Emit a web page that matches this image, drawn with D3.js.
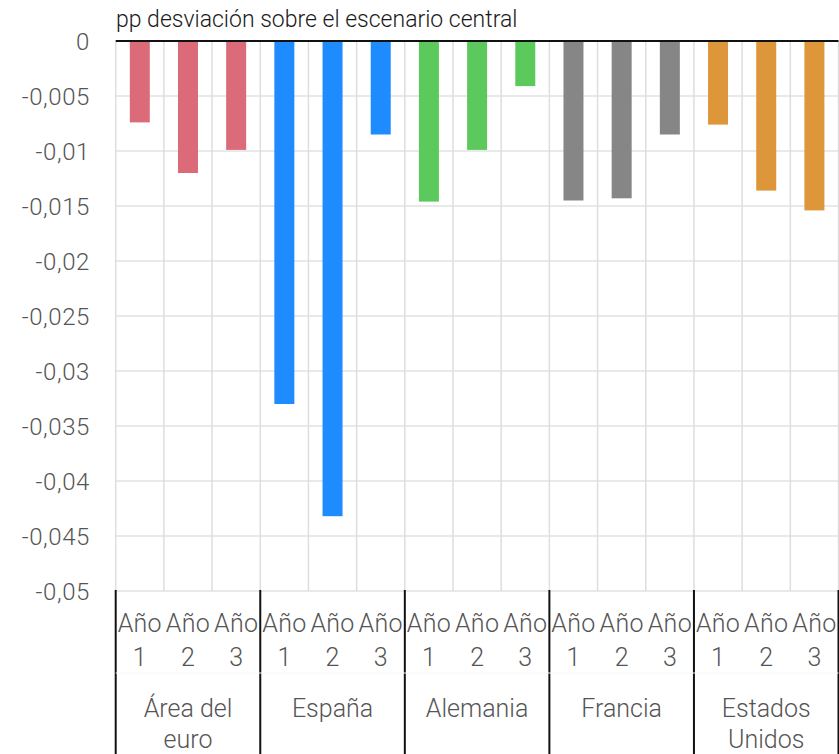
<!DOCTYPE html>
<html>
<head>
<meta charset="utf-8">
<script src="https://cdn.jsdelivr.net/npm/d3@7"></script>
<style>
  html, body { margin: 0; padding: 0; background: #fff; }
  svg { display: block; }
  text { font-family: Roboto, "Liberation Sans", sans-serif; font-weight: 300; }
</style>
</head>
<body>
<svg id="chart" width="839" height="754"></svg>
<script>
const title = "pp desviación sobre el escenario central";
const groups = [["Área del", "euro"], ["España"], ["Alemania"], ["Francia"], ["Estados", "Unidos"]];
const years = [["Año", "1"], ["Año", "2"], ["Año", "3"]];
const areaEuro = [-0.0074, -0.0120, -0.0099];
const espana = [-0.0330, -0.0432, -0.0085];
const alemania = [-0.0146, -0.0099, -0.0041];
const francia = [-0.0145, -0.0143, -0.0085];
const eeuu = [-0.0076, -0.0136, -0.0154];
const seriesValues = [areaEuro, espana, alemania, francia, eeuu];
const colors = ["#DB6B78", "#1E8CFF", "#5BC95B", "#868686", "#DD973A"];
const yTicks = [0, -0.005, -0.01, -0.015, -0.02, -0.025, -0.03, -0.035, -0.04, -0.045, -0.05];

const svg = d3.select("#chart");
const pLeft = 115.7, pRight = 838.5, pTop = 41, pBottom = 591;

const y = d3.scaleLinear().domain([0, -0.05]).range([pTop, pBottom]);
const gx = d3.scaleBand().domain(d3.range(groups.length)).range([pLeft, pRight]).padding(0);
const ix = d3.scaleBand().domain(d3.range(years.length)).range([0, gx.bandwidth()])
  .paddingInner(0.585).paddingOuter(0.585 / 2);
const colStep = gx.bandwidth() / years.length;

// horizontal gridlines
svg.append("g").selectAll("line").data(yTicks.filter(d => d !== 0)).join("line")
  .attr("x1", pLeft).attr("x2", pRight)
  .attr("y1", d => y(d)).attr("y2", d => y(d))
  .attr("stroke", "#e2e2e2").attr("stroke-width", 1.5);

// vertical gridlines (column boundaries)
const colEdges = [];
groups.forEach((g, gi) => years.forEach((yr, yi) => colEdges.push(gx(gi) + yi * colStep)));
colEdges.push(pRight);
svg.append("g").selectAll("line").data(colEdges).join("line")
  .attr("x1", d => d).attr("x2", d => d)
  .attr("y1", pTop).attr("y2", pBottom)
  .attr("stroke", "#dedede").attr("stroke-width", 1.5);

// bars
const gg = svg.append("g").selectAll("g").data(seriesValues).join("g")
  .attr("transform", (d, i) => `translate(${gx(i)},0)`);
gg.selectAll("rect").data((d, i) => d.map(v => ({ v, c: colors[i] }))).join("rect")
  .attr("x", (d, i) => ix(i))
  .attr("width", ix.bandwidth())
  .attr("y", y(0))
  .attr("height", d => y(d.v) - y(0))
  .attr("fill", d => d.c);

// zero line
svg.append("line").attr("x1", pLeft).attr("x2", pRight)
  .attr("y1", y(0)).attr("y2", y(0))
  .attr("stroke", "#111").attr("stroke-width", 2);

// y axis labels
const fmt = d => d === 0 ? "0" : d3.format("")(d).replace(".", ",").replace("−", "-");
svg.append("g").selectAll("text").data(yTicks).join("text")
  .attr("x", 90).attr("y", d => y(d))
  .attr("dy", "0.36em")
  .attr("text-anchor", "end")
  .attr("fill", "#555")
  .style("font-size", "24px")
  .style("letter-spacing", "0.6px")
  .text(d => fmt(d));

// title
svg.append("text").attr("x", 116).attr("y", 27)
  .attr("fill", "#1a1a1a").style("font-size", "23px").style("font-weight", 300)
  .text(title);

// category axis separators
const sepEdges = d3.range(groups.length).map(i => gx(i)).concat([pRight]);
svg.append("g").selectAll("line").data(sepEdges).join("line")
  .attr("x1", d => d).attr("x2", d => d)
  .attr("y1", pBottom - 1).attr("y2", 754)
  .attr("stroke", "#111").attr("stroke-width", 2);
svg.append("line").attr("x1", pLeft).attr("x2", pRight).attr("y1", 673).attr("y2", 673)
  .attr("stroke", "#f8f8f8").attr("stroke-width", 1);

// year labels and group labels
groups.forEach((g, gi) => {
  years.forEach((yr, yi) => {
    const cx = gx(gi) + yi * colStep + colStep / 2;
    yr.forEach((line, li) => {
      svg.append("text").attr("x", cx).attr("y", 632 + li * 34)
        .attr("text-anchor", "middle").attr("fill", "#555")
        .style("font-size", "25px").style("letter-spacing", li === 0 ? "0.3px" : "0px")
        .text(line);
    });
  });
  g.forEach((line, li) => {
    svg.append("text").attr("x", gx(gi) + gx.bandwidth() / 2).attr("y", 717 + li * 31)
      .attr("text-anchor", "middle").attr("fill", "#555")
      .style("font-size", "25px").text(line);
  });
});
</script>
</body>
</html>
